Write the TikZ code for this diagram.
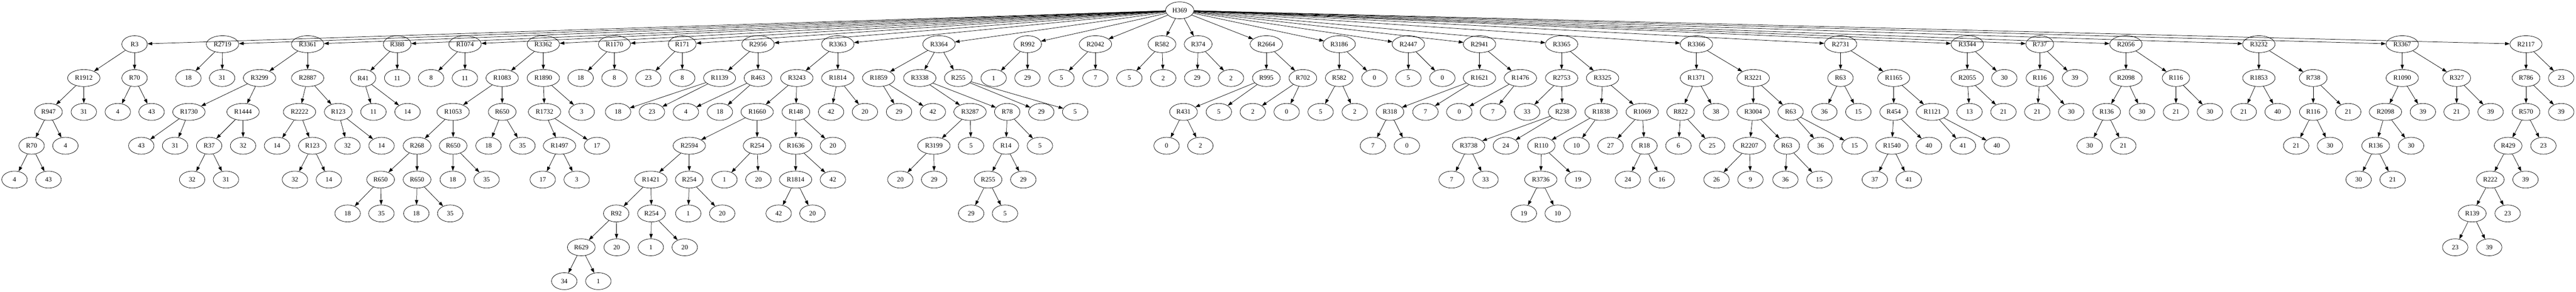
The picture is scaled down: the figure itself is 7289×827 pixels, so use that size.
\documentclass[tikz,border=0pt]{standalone}
\usepackage{fontspec}
\setmainfont{Liberation Serif}
\usetikzlibrary{shapes.geometric,arrows.meta}

\begin{document}
\begin{tikzpicture}[x=0.75pt,y=-0.75pt,
    vtx/.style={draw,ellipse,minimum width=54pt,minimum height=36pt,
        inner xsep=5.65pt,inner ysep=2pt,line width=0.8pt,
        font=\fontsize{14}{16}\selectfont},
    link/.style={line width=0.8pt,-{Triangle[length=10pt,width=7pt]}}]
    \useasboundingbox (0,0) rectangle (7289,827);

    % Root
    \node[vtx] (h369) at (3338.1,29.3) {H369};

    % Level 1
    \foreach \n/\x/\t in {r3/380.8/R3, r2719/629.7/R2719, r3361/870.5/R3361,
        r388/1123.9/R388, r1074/1315.9/R1074, r3362/1537.3/R3362, r1170/1738.6/R1170,
        r171/1930.5/R171, r2956/2144.8/R2956, r3363/2370.6/R3363, r3364/2657.0/R3364,
        r992/2907.7/R992, r2042/3099.6/R2042, r582a/3287.9/R582, r374/3390.3/R374,
        r2664/3583.2/R2664, r3186/3789.4/R3186, r2447/3985.1/R2447, r2941/4186.4/R2941,
        r3365/4418.7/R3365, r3366/4800.2/R3366, r2731/5208.1/R2731, r3344/5566.5/R3344,
        r737/5771.7/R737, r2056/6015.4/R2056, r3232/6391.5/R3232, r3367/6797.3/R3367,
        r2117/7147.5/R2117}
        \node[vtx] (\n) at (\x,125.3) {\t};

    % Level 2
    \foreach \n/\x/\t in {r1912/237.2/R1912, r70a/380.8/R70, r2719x/533.0/18,
        r2719y/628.5/31, r3299/734.4/R3299, r2887/870.5/R2887, r41/1027.4/R41,
        r388y/1123.9/11, r1074x/1219.8/8, r1074y/1315.5/11, r1083/1421.0/R1083,
        r1890/1537.3/R1890, r1170x/1642.9/18, r1170y/1738.6/8, r171x/1834.4/23,
        r171y/1930.5/8, r1139/2036.1/R1139, r463/2144.8/R463, r3243/2254.7/R3243,
        r1814a/2370.6/R1814, r1859/2486.2/R1859, r3338/2602.5/R3338, r255a/2711.6/R255,
        r992x/2811.6/1, r992y/2907.3/29, r2042x/3003.5/5, r2042y/3099.6/7,
        r582ax/3195.7/5, r582ay/3291.4/2, r374x/3387.5/29, r374y/3483.2/2,
        r995/3583.2/R995, r702/3686.6/R702, r582b/3789.4/R582, r3186y/3889.0/0,
        r2447x/3985.1/5, r2447y/4081.2/0, r1621/4186.4/R1621, r1476/4302.0/R1476,
        r2753/4418.7/R2753, r3325/4534.5/R3325, r1371/4800.2/R1371, r3221/4960.9/R3221,
        r63a/5207.7/R63, r1165/5358.3/R1165, r2055/5566.5/R2055, r3344y/5671.3/30,
        r116a/5771.7/R116, r737y/5871.3/39, r2098a/6015.6/R2098, r116b/6157.0/R116,
        r1853/6391.5/R1853, r738/6545.3/R738, r1090/6797.3/R1090, r327/6951.5/R327,
        r786/7147.5/R786, r2117y/7247.2/23}
        \node[vtx] (\n) at (\x,221.3) {\t};

    % Level 3
    \foreach \n/\x/\t in {r947/137.2/R947, r1912y/237.2/31, r70ax/333.3/4,
        r70ay/429.0/43, r1730/534.6/R1730, r1444/687.8/R1444, r2222/847.5/R2222,
        r123a/957.1/R123, r41x/1056.7/11, r41y/1153.2/14, r1053/1282.2/R1053,
        r650a/1421.0/R650, r1732/1540.8/R1732, r1890y/1646.0/3, r1139x/1748.8/18,
        r1139y/1844.7/23, r463x/1940.8/4, r463y/2036.9/18, r1660/2142.4/R1660,
        r148/2252.0/R148, r1814ax/2351.6/42, r1814ay/2447.4/20, r1859x/2543.9/29,
        r1859y/2639.6/42, r3287/2744.8/R3287, r78/2850.0/R78, r255ax/2946.5/29,
        r255ay/3042.3/5, r431/3348.8/R431, r995y/3448.8/5, r702x/3544.9/2,
        r702y/3640.7/0, r582bx/3736.8/5, r582by/3833.3/2, r318/3932.9/R318,
        r1621y/4033.4/7, r1476x/4129.1/0, r1476y/4224.5/7, r2753x/4321.0/33,
        r238/4420.6/R238, r1838/4530.2/R1838, r1069/4646.8/R1069, r822/4755.6/R822,
        r1371y/4855.4/38, r3004/4960.9/R3004, r63b/5066.5/R63, r63ax/5162.2/36,
        r63ay/5258.3/15, r454/5358.3/R454, r1121/5467.6/R1121, r2055x/5572.8/13,
        r2055y/5668.9/21, r116ax/5764.6/21, r116ay/5860.7/30, r136a/5960.7/R136,
        r2098ay/6060.9/30, r116bx/6157.0/21, r116by/6253.1/30, r1853x/6348.8/21,
        r1853y/6444.8/40, r116c/6545.3/R116, r738y/6644.4/21, r2098b/6749.8/R2098,
        r1090y/6855.7/39, r327x/6951.1/21, r327y/7047.3/39, r570/7147.5/R570,
        r786y/7247.2/39}
        \node[vtx] (\n) at (\x,317.3) {\t};

    % Level 4
    \foreach \n/\x/\t in {r70b/89.4/R70, r947y/185.1/4, r1730x/399.8/43,
        r1730y/495.5/31, r37/591.9/R37, r1444y/687.8/32, r2222x/783.9/14,
        r123b/883.9/R123, r123ax/983.2/32, r123ay/1079.6/14, r268/1180.1/R268,
        r650b/1282.2/R650, r650ax/1382.3/18, r650ay/1478.4/35, r1497/1583.2/R1497,
        r1732y/1689.1/17, r2594/1950.3/R2594, r254a/2142.4/R254, r1636/2251.6/R1636,
        r148y/2356.7/20, r3199/2642.4/R3199, r3287y/2747.6/5, r14/2846.4/R14,
        r78y/2942.5/5, r431x/3300.9/0, r431y/3396.6/2, r318x/3884.7/7,
        r318y/3980.8/0, r3738/4155.6/R3738, r238y/4260.9/24, r110/4361.3/R110,
        r1838y/4461.0/10, r1069x/4557.1/27, r18/4653.1/R18, r822x/4749.2/6,
        r822y/4844.7/25, r2207/4950.3/R2207, r63c/5055.8/R63, r63bx/5151.5/36,
        r63by/5247.6/15, r1540/5353.2/R1540, r454y/5458.1/40, r1121x/5554.2/41,
        r1121y/5649.9/40, r136ax/5912.9/30, r136ay/6008.0/21, r116cx/6497.0/21,
        r116cy/6592.7/30, r136b/6722.1/R136, r2098by/6822.3/30, r429/7096.9/R429,
        r570y/7196.7/23}
        \node[vtx] (\n) at (\x,413.3) {\t};

    % Level 5
    \foreach \n/\x/\t in {r70bx/41.1/4, r70by/137.2/43, r37x/543.7/32,
        r37y/639.5/31, r123bx/834.5/32, r123by/930.6/14, r650c/1076.9/R650,
        r650d/1180.1/R650, r650bx/1281.1/18, r650by/1376.8/35, r1497x/1535.7/17,
        r1497y/1631.8/3, r1421/1841.5/R1421, r254b/1950.3/R254, r254ax/2049.9/1,
        r254ay/2146.0/20, r1814b/2251.2/R1814, r1636y/2356.7/42, r3199x/2547.5/20,
        r3199y/2643.2/29, r255b/2795.8/R255, r14y/2895.5/29, r3738x/4107.3/7,
        r3738y/4203.4/33, r3736/4359.7/R3736, r110y/4464.9/19, r18x/4606.1/24,
        r18y/4702.2/16, r2207x/4856.9/26, r2207y/4953.0/9, r63cx/5051.9/36,
        r63cy/5148.0/15, r1540x/5304.9/37, r1540y/5401.0/41, r136bx/6673.8/30,
        r136by/6770.0/21, r222/7046.4/R222, r429y/7146.1/39}
        \node[vtx] (\n) at (\x,509.3) {\t};

    % Level 6
    \foreach \n/\x/\t in {r650cx/983.6/18, r650cy/1079.2/35, r650dx/1178.1/18,
        r650dy/1273.9/35, r92/1743.7/R92, r254c/1843.5/R254, r254bx/1947.5/1,
        r254by/2043.6/20, r1814bx/2203.3/42, r1814by/2299.0/20, r255bx/2748.0/29,
        r255by/2843.7/5, r3736x/4311.9/19, r3736y/4407.6/10, r139/6995.4/R139,
        r222y/7095.6/23}
        \node[vtx] (\n) at (\x,605.3) {\t};

    % Level 7 and 8
    \foreach \n/\x/\t in {r629/1644.8/R629, r92y/1744.9/20, r254cx/1841.5/1,
        r254cy/1937.6/20, r139x/6947.1/23, r139y/7043.3/39}
        \node[vtx] (\n) at (\x,701.3) {\t};
    \node[vtx] (r629x) at (1596.6,797.3) {34};
    \node[vtx] (r629y) at (1693.1,797.3) {1};

    % Root edges
    \foreach \c in {r3, r2719, r3361, r388, r1074, r3362, r1170, r171, r2956,
        r3363, r3364, r992, r2042, r582a, r374, r2664, r3186, r2447, r2941, r3365,
        r3366, r2731, r3344, r737, r2056, r3232, r3367, r2117}
        \draw[link] (h369) -- (\c);

    % Tree edges
    \foreach \p/\c in {r3/r1912, r3/r70a, r2719/r2719x, r2719/r2719y,
        r3361/r3299, r3361/r2887, r388/r41, r388/r388y, r1074/r1074x, r1074/r1074y,
        r3362/r1083, r3362/r1890, r1170/r1170x, r1170/r1170y, r171/r171x, r171/r171y,
        r2956/r1139, r2956/r463, r3363/r3243, r3363/r1814a, r3364/r1859,
        r3364/r3338, r3364/r255a, r992/r992x, r992/r992y, r2042/r2042x,
        r2042/r2042y, r582a/r582ax, r582a/r582ay, r374/r374x, r374/r374y,
        r2664/r995, r2664/r702, r3186/r582b, r3186/r3186y, r2447/r2447x,
        r2447/r2447y, r2941/r1621, r2941/r1476, r3365/r2753, r3365/r3325,
        r3366/r1371, r3366/r3221, r2731/r63a, r2731/r1165, r3344/r2055,
        r3344/r3344y, r737/r116a, r737/r737y, r2056/r2098a, r2056/r116b,
        r3232/r1853, r3232/r738, r3367/r1090, r3367/r327, r2117/r786, r2117/r2117y}
        \draw[link] (\p) -- (\c);
    \foreach \p/\c in {r1912/r947, r1912/r1912y, r70a/r70ax, r70a/r70ay,
        r3299/r1730, r3299/r1444, r2887/r2222, r2887/r123a, r41/r41x, r41/r41y,
        r1083/r1053, r1083/r650a, r1890/r1732, r1890/r1890y, r1139/r1139x,
        r1139/r1139y, r463/r463x, r463/r463y, r3243/r1660, r3243/r148,
        r1814a/r1814ax, r1814a/r1814ay, r1859/r1859x, r1859/r1859y, r3338/r3287,
        r3338/r78, r255a/r255ax, r255a/r255ay, r995/r431, r995/r995y, r702/r702x,
        r702/r702y, r582b/r582bx, r582b/r582by, r1621/r318, r1621/r1621y,
        r1476/r1476x, r1476/r1476y, r2753/r2753x, r2753/r238, r3325/r1838,
        r3325/r1069, r1371/r822, r1371/r1371y, r3221/r3004, r3221/r63b,
        r63a/r63ax, r63a/r63ay, r1165/r454, r1165/r1121, r2055/r2055x,
        r2055/r2055y, r116a/r116ax, r116a/r116ay, r2098a/r136a, r2098a/r2098ay,
        r116b/r116bx, r116b/r116by, r1853/r1853x, r1853/r1853y, r738/r116c,
        r738/r738y, r1090/r2098b, r1090/r1090y, r327/r327x, r327/r327y,
        r786/r570, r786/r786y}
        \draw[link] (\p) -- (\c);
    \foreach \p/\c in {r947/r70b, r947/r947y, r1730/r1730x, r1730/r1730y,
        r1444/r37, r1444/r1444y, r2222/r2222x, r2222/r123b, r123a/r123ax,
        r123a/r123ay, r1053/r268, r1053/r650b, r650a/r650ax, r650a/r650ay,
        r1732/r1497, r1732/r1732y, r1660/r2594, r1660/r254a, r148/r1636,
        r148/r148y, r3287/r3199, r3287/r3287y, r78/r14, r78/r78y, r431/r431x,
        r431/r431y, r318/r318x, r318/r318y, r238/r3738, r238/r238y, r1838/r110,
        r1838/r1838y, r1069/r1069x, r1069/r18, r822/r822x, r822/r822y,
        r3004/r2207, r3004/r63c, r63b/r63bx, r63b/r63by, r454/r1540, r454/r454y,
        r1121/r1121x, r1121/r1121y, r136a/r136ax, r136a/r136ay, r116c/r116cx,
        r116c/r116cy, r2098b/r136b, r2098b/r2098by, r570/r429, r570/r570y}
        \draw[link] (\p) -- (\c);
    \foreach \p/\c in {r70b/r70bx, r70b/r70by, r37/r37x, r37/r37y,
        r123b/r123bx, r123b/r123by, r268/r650c, r268/r650d, r650b/r650bx,
        r650b/r650by, r1497/r1497x, r1497/r1497y, r2594/r1421, r2594/r254b,
        r254a/r254ax, r254a/r254ay, r1636/r1814b, r1636/r1636y, r3199/r3199x,
        r3199/r3199y, r14/r255b, r14/r14y, r3738/r3738x, r3738/r3738y,
        r110/r3736, r110/r110y, r18/r18x, r18/r18y, r2207/r2207x, r2207/r2207y,
        r63c/r63cx, r63c/r63cy, r1540/r1540x, r1540/r1540y, r136b/r136bx,
        r136b/r136by, r429/r222, r429/r429y}
        \draw[link] (\p) -- (\c);
    \foreach \p/\c in {r650c/r650cx, r650c/r650cy, r650d/r650dx, r650d/r650dy,
        r1421/r92, r1421/r254c, r254b/r254bx, r254b/r254by, r1814b/r1814bx,
        r1814b/r1814by, r255b/r255bx, r255b/r255by, r3736/r3736x, r3736/r3736y,
        r222/r139, r222/r222y, r92/r629, r92/r92y, r254c/r254cx, r254c/r254cy,
        r139/r139x, r139/r139y, r629/r629x, r629/r629y}
        \draw[link] (\p) -- (\c);
\end{tikzpicture}
\end{document}
